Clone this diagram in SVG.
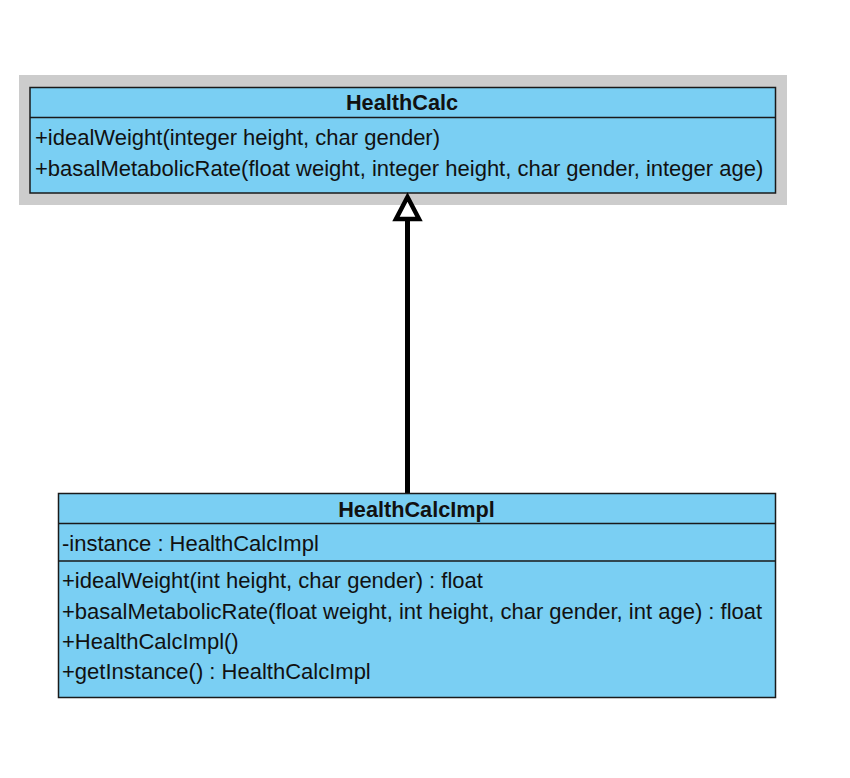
<svg xmlns="http://www.w3.org/2000/svg" width="850" height="778" viewBox="0 0 850 778">
<style>
.box{fill:#7acff3;stroke:#1a1a1a;stroke-width:1.5}
.div{stroke:#1a1a1a;stroke-width:1.5}
.t{font-family:"Liberation Sans",Arial,sans-serif;font-size:22px;fill:#111}
.h{font-family:"Liberation Sans",Arial,sans-serif;font-size:21.7px;font-weight:bold;fill:#111;text-anchor:middle}
</style>
<rect width="850" height="778" fill="#fff"/>
<g id="HealthCalc">
<rect x="19" y="75" width="768" height="130" fill="#cccccc"/>
<rect class="box" x="30" y="87.5" width="745.5" height="105.5"/>
<line class="div" x1="30" y1="117.5" x2="775.5" y2="117.5"/>
<text class="h" x="402" y="110">HealthCalc</text>
<text class="t" x="35" y="145">+idealWeight(integer height, char gender)</text>
<text class="t" x="35" y="176">+basalMetabolicRate(float weight, integer height, char gender, integer age)</text>
</g>
<g id="connectors">
<line x1="407.5" y1="220" x2="407.5" y2="493" stroke="#000" stroke-width="5"/>
<polygon points="407.5,197 396,219 419,219" fill="#fff" stroke="#000" stroke-width="4.5" stroke-linejoin="miter"/>
</g>
<g id="HealthCalcImpl">
<rect class="box" x="58.5" y="493.5" width="717" height="204"/>
<line class="div" x1="58.5" y1="523.5" x2="775.5" y2="523.5"/>
<line class="div" x1="58.5" y1="561" x2="775.5" y2="561"/>
<text class="h" x="416.5" y="517">HealthCalcImpl</text>
<text class="t" x="62" y="551">-instance : HealthCalcImpl</text>
<text class="t" x="62" y="588">+idealWeight(int height, char gender) : float</text>
<text class="t" x="62" y="619">+basalMetabolicRate(float weight, int height, char gender, int age) : float</text>
<text class="t" x="62" y="649">+HealthCalcImpl()</text>
<text class="t" x="62" y="679">+getInstance() : HealthCalcImpl</text>
</g>
</svg>
